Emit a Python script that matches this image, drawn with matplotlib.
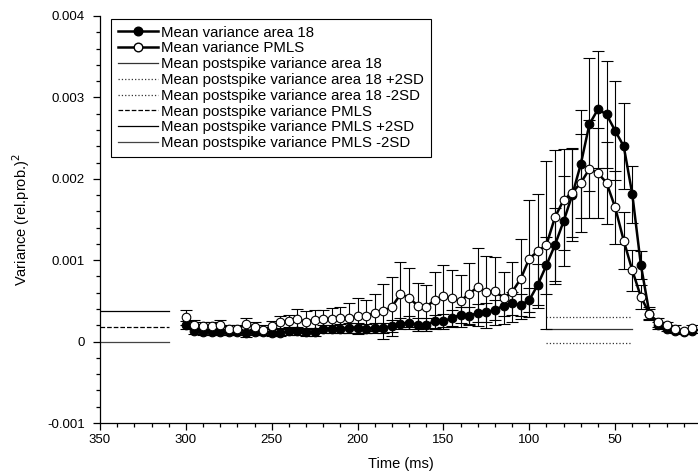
import numpy as np
import matplotlib.pyplot as plt
from matplotlib.ticker import MultipleLocator, FuncFormatter

plt.rcParams['font.family'] = ['Liberation Sans', 'DejaVu Sans']

# time bins (ms before spike)
time = list(range(300, 0, -5))

# mean variance, units of 1e-3 (rel.prob.)^2
var_pmls = [0.30, 0.21, 0.19, 0.19, 0.21, 0.16, 0.155, 0.215, 0.18, 0.14,
            0.19, 0.24, 0.25, 0.28, 0.24, 0.27, 0.28, 0.28, 0.29, 0.29,
            0.31, 0.31, 0.355, 0.37, 0.43, 0.58, 0.54, 0.44, 0.43, 0.51,
            0.565, 0.53, 0.50, 0.59, 0.67, 0.61, 0.62, 0.54, 0.61, 0.77,
            1.02, 1.11, 1.19, 1.53, 1.74, 1.83, 1.95, 2.12, 2.07, 1.95,
            1.65, 1.24, 0.875, 0.55, 0.34, 0.235, 0.205, 0.16, 0.13, 0.17]
err_pmls = [0.09, 0.05, 0.05, 0.05, 0.06, 0.05, 0.05, 0.07, 0.06, 0.06,
            0.06, 0.07, 0.08, 0.12, 0.13, 0.12, 0.11, 0.13, 0.13, 0.18,
            0.22, 0.20, 0.23, 0.34, 0.36, 0.40, 0.36, 0.28, 0.26, 0.35,
            0.38, 0.35, 0.32, 0.37, 0.48, 0.44, 0.42, 0.32, 0.37, 0.49,
            0.72, 0.70, 1.03, 0.82, 0.62, 0.55, 0.60, 0.60, 0.55, 0.50,
            0.45, 0.35, 0.25, 0.15, 0.08, 0.05, 0.04, 0.04, 0.03, 0.03]

var_a18 = [0.20, 0.13, 0.12, 0.12, 0.12, 0.12, 0.12, 0.10, 0.12, 0.12,
           0.11, 0.11, 0.13, 0.13, 0.12, 0.12, 0.16, 0.16, 0.16, 0.17,
           0.17, 0.16, 0.17, 0.17, 0.19, 0.22, 0.23, 0.21, 0.21, 0.25,
           0.25, 0.29, 0.33, 0.32, 0.35, 0.36, 0.39, 0.44, 0.47, 0.45,
           0.51, 0.70, 0.94, 1.19, 1.48, 1.80, 2.18, 2.67, 2.855, 2.79,
           2.59, 2.40, 1.81, 0.94, 0.34, 0.20, 0.16, 0.13, 0.12, 0.13]
err_a18 = [0.05, 0.04, 0.04, 0.04, 0.04, 0.04, 0.04, 0.04, 0.04, 0.04,
           0.04, 0.04, 0.05, 0.05, 0.05, 0.05, 0.05, 0.05, 0.06, 0.06,
           0.06, 0.06, 0.06, 0.06, 0.07, 0.07, 0.08, 0.08, 0.08, 0.08,
           0.09, 0.10, 0.10, 0.11, 0.11, 0.12, 0.12, 0.13, 0.14, 0.14,
           0.15, 0.25, 0.35, 0.45, 0.55, 0.57, 0.66, 0.82, 0.72, 0.66,
           0.61, 0.53, 0.35, 0.17, 0.06, 0.04, 0.03, 0.03, 0.03, 0.03]

# postspike reference levels
pmls_ref_x = [350, 310]
pmls_mean, pmls_plus, pmls_minus = 0.18, 0.38, -0.01
a18_ref_x = [90, 40]
a18_mean, a18_plus, a18_minus = 0.15, 0.30, -0.02

scale = 1e-3
var_pmls = np.array(var_pmls) * scale
err_pmls = np.array(err_pmls) * scale
var_a18 = np.array(var_a18) * scale
err_a18 = np.array(err_a18) * scale

fig = plt.figure(figsize=(6.98, 4.72), dpi=100)
ax = fig.add_axes([100 / 698, 49 / 472, 601 / 698, 407 / 472])

tick_fs = 9.5
lab_fs = 10.5
leg_fs = 10.8

h1 = ax.errorbar(time, var_a18, yerr=err_a18, color='black', lw=1.8,
                 marker='o', ms=6.2, mfc='black', mec='black', mew=0.8,
                 ecolor='black', elinewidth=0.8, capsize=4.5, capthick=0.9,
                 zorder=3)
h2 = ax.errorbar(time, var_pmls, yerr=err_pmls, color='black', lw=1.8,
                 marker='o', ms=6.2, mfc='white', mec='black', mew=0.8,
                 ecolor='black', elinewidth=0.8, capsize=4.5, capthick=0.9,
                 zorder=4)

h3, = ax.plot(a18_ref_x, [a18_mean * scale] * 2, '-', color='#333333', lw=0.9)
h4, = ax.plot(a18_ref_x, [a18_plus * scale] * 2, ':', color='#333333', lw=0.9)
h5, = ax.plot(a18_ref_x, [a18_minus * scale] * 2, ':', color='#333333', lw=0.9)
h6, = ax.plot(pmls_ref_x, [pmls_mean * scale] * 2, '--', color='black', lw=0.9)
h7, = ax.plot(pmls_ref_x, [pmls_plus * scale] * 2, '-', color='black', lw=0.9)
h8, = ax.plot(pmls_ref_x, [pmls_minus * scale] * 2, '-', color='#444444', lw=0.9)

h1l, = ax.plot([], [], color='black', lw=1.8, marker='o', ms=6.2,
               mfc='black', mec='black')
h2l, = ax.plot([], [], color='black', lw=1.8, marker='o', ms=6.2,
               mfc='white', mec='black')

labels = ['Mean variance area 18', 'Mean variance PMLS',
          'Mean postspike variance area 18',
          'Mean postspike variance area 18 +2SD',
          'Mean postspike variance area 18 -2SD',
          'Mean postspike variance PMLS',
          'Mean postspike variance PMLS +2SD',
          'Mean postspike variance PMLS -2SD']
leg = ax.legend([h1l, h2l, h3, h4, h5, h6, h7, h8], labels,
                loc='upper left', bbox_to_anchor=(0.018, 0.993),
                borderaxespad=0, fontsize=leg_fs, frameon=True, fancybox=False,
                edgecolor='black', framealpha=1, handlelength=2.7,
                handletextpad=0.2, labelspacing=0.12, borderpad=0.45)
leg.get_frame().set_linewidth(0.8)

ax.set_xlim(350, 0)
ax.set_ylim(-0.001, 0.004)
ax.xaxis.set_major_locator(MultipleLocator(50))
ax.xaxis.set_minor_locator(MultipleLocator(10))
ax.yaxis.set_major_locator(MultipleLocator(0.001))
ax.yaxis.set_minor_locator(MultipleLocator(0.0002))
ax.yaxis.set_major_formatter(FuncFormatter(lambda v, p: '0' if abs(v) < 1e-9 else f'{v:.3f}'))

ax.spines['top'].set_visible(False)
ax.spines['right'].set_visible(False)
ax.spines['left'].set_linewidth(0.9)
ax.spines['bottom'].set_linewidth(0.9)
ax.tick_params(which='major', direction='out', length=5, width=0.9,
               labelsize=tick_fs, pad=3)
ax.tick_params(axis='y', which='major', pad=6)
ax.tick_params(which='minor', direction='out', length=3, width=0.9)

ax.set_xlabel('Time (ms)', fontsize=lab_fs, labelpad=8)
ax.set_ylabel('Variance (rel.prob.)$^2$', fontsize=lab_fs, labelpad=11)

fig.savefig('out.png', dpi=100)
